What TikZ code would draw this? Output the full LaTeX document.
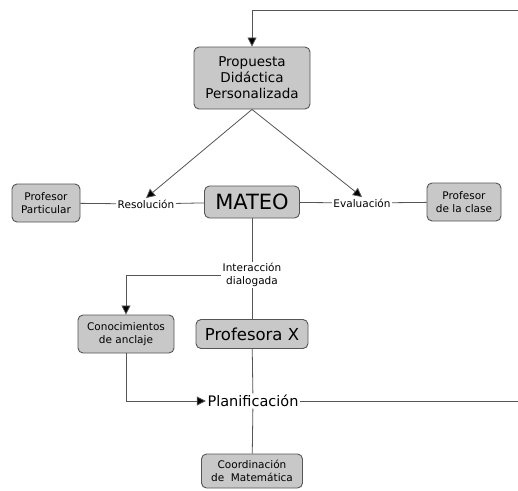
\documentclass[tikz,border=0pt]{standalone}
\usepackage{fontspec}
\setmainfont{DejaVu Sans}
\usetikzlibrary{arrows.meta}

\definecolor{boxgray}{RGB}{200,200,200}
\definecolor{linegray}{RGB}{85,85,85}

\begin{document}
\begin{tikzpicture}[x=1pt, y=-1pt]
\tikzstyle{concept}=[draw=linegray, line width=0.9pt, fill=boxgray, rounded corners=5pt, align=center, inner sep=2pt];
\tikzstyle{link}=[align=center, inner sep=1.5pt, font=\fontsize{10.5}{13}\selectfont];
\tikzstyle{conn}=[draw=linegray, line width=0.8pt];
\tikzstyle{arr}=[conn, -{Triangle[length=9pt,width=9pt,fill=black]}];
\useasboundingbox (0,0) rectangle (518,490);
% conceptos
\node [concept, minimum width=116pt, minimum height=62pt, font=\fontsize{13.5}{16}\selectfont] (prop) at (252,78) {Propuesta\\Didáctica\\Personalizada};
\node [concept, minimum width=95pt, minimum height=32pt, font=\fontsize{21}{24}\selectfont] (mateo) at (252,202) {MATEO};
\node [concept, minimum width=68pt, minimum height=38pt, font=\fontsize{10.5}{13}\selectfont] (part) at (46,203) {Profesor\\Particular};
\node [concept, minimum width=74pt, minimum height=38pt, font=\fontsize{10.5}{13}\selectfont] (clase) at (464,202) {Profesor\\de la clase};
\node [concept, minimum width=96pt, minimum height=38pt, font=\fontsize{10.5}{13}\selectfont] (conoc) at (126,334) {Conocimientos\\de anclaje};
\node [concept, minimum width=112pt, minimum height=29pt, font=\fontsize{16.5}{19}\selectfont] (profx) at (252,334) {Profesora X};
\node [concept, minimum width=101pt, minimum height=34pt, font=\fontsize{10.5}{13}\selectfont] (coord) at (252,471) {Coordinación\\de~~Matemática};
% enlaces
\node [link] (res) at (146,204) {Resolución};
\node [link] (eval) at (362,203) {Evaluación};
\node [link] (inter) at (252,275) {Interacción\\dialogada};
\node [link, font=\fontsize{14.5}{17}\selectfont] (plan) at (253,401) {Planificación};
\coordinate (topright) at (518,10);
\coordinate (planright) at (518,401);
% conexiones
\draw [arr] (prop.south) -- (res.north);
\draw [arr] (prop.south) -- (eval.north);
\draw [conn] (part) -- (res) -- (mateo) -- (eval) -- (clase);
\draw [conn] (mateo) -- (inter);
\draw [arr] (inter.west) -| (conoc.north);
\draw [conn] (inter) -- (profx);
\draw [conn] (profx) -- (plan);
\draw [conn] (plan) -- (coord);
\draw [arr] (conoc.south) |- (plan.west);
\draw [conn] (plan.east) -- (planright);
\draw [arr] (topright) -| (prop.north);
\end{tikzpicture}
\end{document}
